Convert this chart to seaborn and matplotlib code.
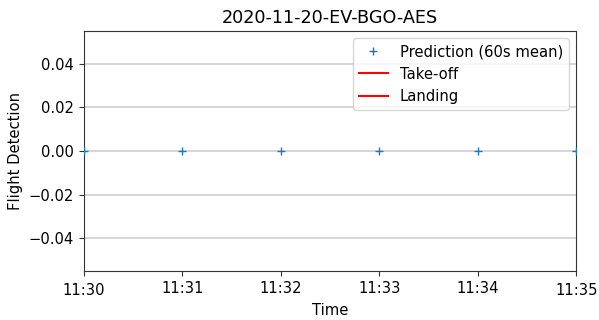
import pandas as pd
import matplotlib
matplotlib.use("Agg")
import matplotlib.pyplot as plt
import matplotlib.dates as mdates
from matplotlib.lines import Line2D
from matplotlib.transforms import ScaledTranslation
import seaborn as sns

# Flight detection prediction, averaged over 60 s windows
times = ["2020-11-20 11:30", "2020-11-20 11:31", "2020-11-20 11:32",
         "2020-11-20 11:33", "2020-11-20 11:34", "2020-11-20 11:35"]
prediction = [0, 0, 0, 0, 0, 0]
takeoff_times = []
landing_times = []

df = pd.DataFrame({"Time": pd.to_datetime(times), "Prediction": prediction})

plt.rcParams["font.size"] = 10.6
plt.rcParams["axes.titlesize"] = 12.7
plt.rcParams["axes.edgecolor"] = "#333333"
plt.rcParams["xtick.color"] = "#333333"
plt.rcParams["ytick.color"] = "#333333"
plt.rcParams["xtick.labelcolor"] = "black"
plt.rcParams["ytick.labelcolor"] = "black"

fig, ax = plt.subplots(figsize=(5.99, 3.2), dpi=100)
sns.scatterplot(data=df, x="Time", y="Prediction", marker="+", color="tab:blue",
                s=36, linewidth=1, ax=ax, legend=False, zorder=3)

for t in takeoff_times:
    ax.axvline(pd.to_datetime(t), color="red")
for t in landing_times:
    ax.axvline(pd.to_datetime(t), color="red")

ax.set_xlim(df["Time"].min(), df["Time"].max())
ax.set_ylim(-0.055, 0.055)
ax.xaxis.set_major_locator(mdates.MinuteLocator())
ax.xaxis.set_major_formatter(mdates.DateFormatter("%H:%M"))
ax.yaxis.grid(True, color="#d0d0d0", linewidth=1.2)
ax.set_axisbelow(True)

ax.set_title("2020-11-20-EV-BGO-AES")
ax.set_xlabel("Time")
ax.set_ylabel("Flight Detection")

handles = [
    Line2D([], [], marker="+", linestyle="none", color="tab:blue"),
    Line2D([], [], color="red"),
    Line2D([], [], color="red"),
]
ax.legend(handles, ["Prediction (60s mean)", "Take-off", "Landing"], loc="upper right")

fig.subplots_adjust(left=0.140, right=0.962, top=0.903, bottom=0.153)

# edge tick labels sit slightly lower
fig.canvas.draw()
labels = ax.get_xticklabels()
for lab in (labels[0], labels[-1]):
    lab.set_transform(lab.get_transform() + ScaledTranslation(0, -1.5 / 72, fig.dpi_scale_trans))

fig.savefig("out.png", dpi=100)
